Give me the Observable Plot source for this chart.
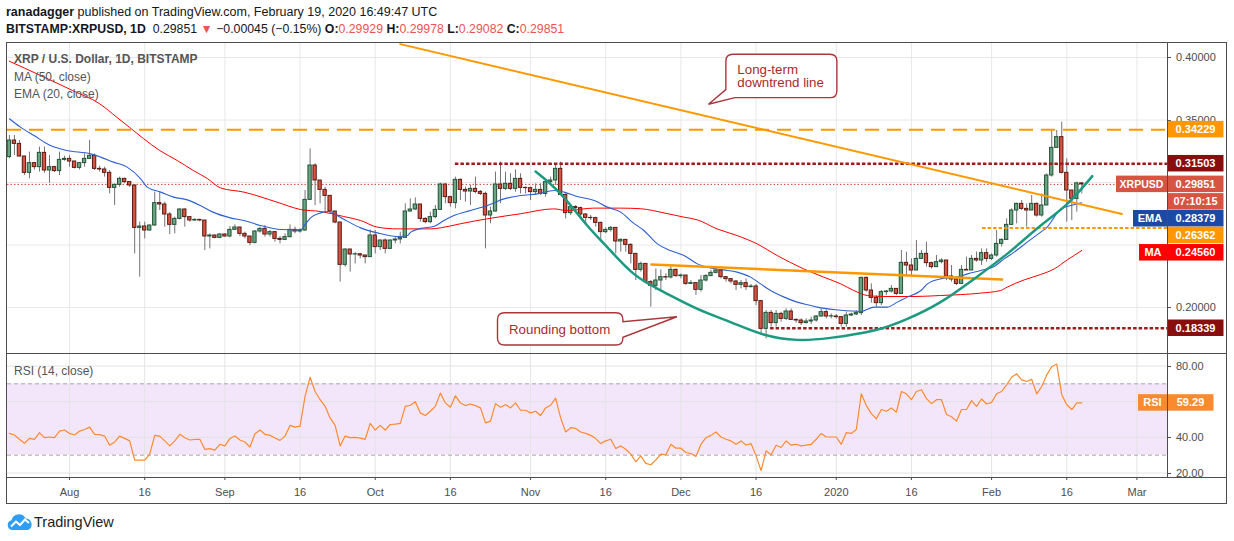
<!DOCTYPE html>
<html><head><meta charset="utf-8">
<script src="https://cdn.jsdelivr.net/npm/d3@7"></script>
<script src="https://cdn.jsdelivr.net/npm/@observablehq/plot@0.6"></script>
<style>
html,body{margin:0;padding:0;background:#fff;}
#root{position:relative;width:1234px;height:541px;overflow:hidden;font-family:"Liberation Sans",Arial,sans-serif;color:#131722;}
.abs{position:absolute;white-space:nowrap;}
.ln{position:absolute;background:#4d4d4d;}
.r{color:#ef5350;}
.lg{position:absolute;left:14px;font-size:12px;color:#555;white-space:nowrap;line-height:15px;}
</style></head>
<body><div id="root">
<div class="abs" style="left:6px;top:4px;font-size:12.5px;line-height:16px;"><b>ranadagger</b> published on TradingView.com, February 19, 2020 16:49:47 UTC</div>
<div class="abs" id="h2" style="left:6px;top:21px;font-size:12.3px;line-height:16px;"></div>
<div id="main" class="abs" style="left:0;top:43px;"></div>
<div id="rsi" class="abs" style="left:0;top:354px;"></div>
<div class="ln" style="left:6px;top:42px;width:1221px;height:1px"></div>
<div class="ln" style="left:6px;top:503px;width:1221px;height:1px"></div>
<div class="ln" style="left:6px;top:42px;width:1px;height:462px"></div>
<div class="ln" style="left:1226px;top:42px;width:1px;height:462px"></div>
<div class="ln" style="left:6px;top:353px;width:1221px;height:1px"></div>
<div class="ln" style="left:1167px;top:42px;width:1px;height:436px"></div>
<div class="ln" style="left:6px;top:477px;width:1221px;height:1px"></div>
<div class="lg" style="top:52px;font-weight:bold;">XRP / U.S. Dollar, 1D, BITSTAMP</div>
<div class="lg" style="top:70px;">MA (50, close)</div>
<div class="lg" style="top:87px;">EMA (20, close)</div>
<div class="lg" style="top:364px;">RSI (14, close)</div>
<svg class="abs" style="left:7px;top:513px" width="26" height="18" viewBox="0 0 26 18"><path d="M5 17 A5 5 0 0 1 4.5 7.2 A7.5 7.5 0 0 1 18.5 5.5 A6 6 0 0 1 21 17 Z" fill="#2f9df4"/><polyline points="4,13.5 9,8.5 13,12 18,6.5 22,10" fill="none" stroke="#fff" stroke-width="2"/></svg>
<div class="abs" style="left:34px;top:513px;font-size:14.5px;line-height:18px;color:#222;">TradingView</div>
</div>
<script>
// ---------------- DATA ----------------
const startDate = "2019-07-20";          // first daily candle
const firstOpen = 0.3203;                // open of the first candle (later opens = previous close)
const closes = [
0.3336,0.3309,0.3208,0.3077,0.3155,0.3123,0.3237,0.3096,0.3123,0.3091,0.3181,0.3189,
0.3168,0.3117,0.3155,0.3189,0.3213,0.3109,0.3104,0.3077,0.2957,0.2981,0.3029,0.3003,0.2976,0.2637,0.2648,0.2616,0.2656,0.2835,0.2824,0.2744,0.2661,0.2709,0.2784,0.2723,0.2696,0.2701,0.2696,0.2568,0.2576,0.2557,0.2584,
0.2568,0.2621,0.2640,0.2589,0.2568,0.2517,0.2608,0.2629,0.2584,0.2603,0.2549,0.2541,0.2563,0.2621,0.2608,0.2616,0.2861,0.3136,0.3016,0.2941,0.2893,0.2768,0.2680,0.2341,0.2464,0.2424,0.2426,0.2416,0.2403,0.2576,
0.2483,0.2536,0.2469,0.2536,0.2544,0.2557,0.2768,0.2784,0.2824,0.2709,0.2683,0.2723,0.2781,0.2984,0.2883,0.2835,0.3021,0.2941,0.2928,0.2949,0.2925,0.2909,0.2736,0.2768,0.2984,0.2949,0.2989,0.2949,0.3029,0.2957,0.2955,
0.2923,0.2941,0.2909,0.3003,0.3016,0.3109,0.2901,0.2755,0.2803,0.2795,0.2744,0.2717,0.2715,0.2677,0.2603,0.2621,0.2637,0.2528,0.2541,0.2501,0.2429,0.2301,0.2349,0.2203,0.2173,0.2216,0.2243,0.2240,0.2301,0.2251,
0.2256,0.2189,0.2195,0.2141,0.2216,0.2251,0.2277,0.2296,0.2243,0.2227,0.2208,0.2181,0.2195,0.2163,0.2168,0.2051,0.1829,0.1957,0.1875,0.1949,0.1909,0.1968,0.1901,0.1896,0.1875,0.1888,0.1896,0.1928,0.1963,0.1928,0.1928,
0.1923,0.1869,0.1936,0.1944,0.1955,0.2237,0.2136,0.2077,0.2035,0.2123,0.2128,0.2149,0.2109,0.2357,0.2336,0.2296,0.2389,0.2429,0.2355,0.2323,0.2363,0.2376,0.2248,0.2224,0.2189,0.2301,0.2296,0.2389,0.2376,0.2435,0.2389,
0.2416,0.2509,0.2541,0.2661,0.2776,0.2829,0.2789,0.2776,0.2829,0.2736,0.2816,0.3056,0.3277,0.3363,0.3077,0.2936,0.2869,0.2993,0.29851];
const highs = [
.3376,.3376,.3336,.3208,.3243,.3160,.3283,.3283,.3216,.3130,.3243,.3210,
.3216,.3170,.3160,.3229,.3336,.3229,.3130,.3123,.3096,.2989,.3043,.3035,.3003,.2981,.2683,.2683,.2660,.2923,.2923,.2843,.2760,.2723,.2790,.2789,.2723,.2710,.2705,.2696,.2589,.2580,.2590,
.2590,.2648,.2661,.2640,.2603,.2568,.2615,.2643,.2656,.2616,.2589,.2568,.2589,.2661,.2643,.2630,.2936,.3269,.3150,.3016,.2963,.2869,.2768,.2680,.2470,.2464,.2440,.2430,.2416,.2621,
.2616,.2540,.2549,.2540,.2563,.2603,.2829,.2869,.2877,.2824,.2717,.2763,.2816,.2995,.2989,.2890,.3043,.3029,.2963,.2976,.3043,.2936,.2923,.2803,.3083,.3163,.3083,.3070,.3101,.3070,.2963,
.2963,.2989,.2989,.3021,.3043,.3136,.3163,.2909,.2816,.2816,.2803,.2750,.2736,.2723,.2683,.2637,.2648,.2637,.2550,.2541,.2509,.2429,.2363,.2349,.2216,.2309,.2301,.2269,.2328,.2309,
.2269,.2256,.2216,.2189,.2256,.2264,.2296,.2328,.2301,.2248,.2229,.2216,.2216,.2229,.2184,.2184,.2056,.1976,.1976,.1976,.1963,.1989,.1989,.1909,.1909,.1909,.1923,.1936,.1989,.1981,.1949,
.1944,.1928,.1963,.1955,.1975,.2243,.2243,.2189,.2096,.2136,.2136,.2176,.2149,.2456,.2443,.2389,.2536,.2456,.2523,.2363,.2416,.2390,.2376,.2336,.2229,.2336,.2403,.2416,.2443,.2469,.2469,
.2430,.2616,.2549,.2709,.2790,.2835,.2856,.2829,.2896,.2835,.2909,.3069,.3416,.3416,.3483,.3189,.2936,.3003,.29978];
const lows = [
.3190,.3216,.3203,.3056,.3030,.3100,.3083,.3075,.2995,.3080,.3056,.3170,
.3123,.3109,.3100,.3123,.3189,.3096,.3083,.3043,.2909,.2816,.2963,.2990,.2960,.2429,.2243,.2549,.2610,.2650,.2776,.2643,.2584,.2589,.2700,.2643,.2683,.2690,.2685,.2456,.2469,.2550,.2550,
.2560,.2557,.2616,.2568,.2549,.2496,.2509,.2595,.2563,.2563,.2523,.2509,.2536,.2557,.2589,.2595,.2610,.2856,.2816,.2829,.2763,.2749,.2669,.2203,.2323,.2283,.2349,.2389,.2349,.2403,
.2429,.2456,.2429,.2469,.2509,.2509,.2557,.2763,.2776,.2683,.2670,.2670,.2710,.2776,.2830,.2803,.2789,.2856,.2843,.2816,.2910,.2896,.2469,.2670,.2763,.2830,.2936,.2936,.2923,.2909,.2909,
.2856,.2896,.2896,.2883,.2989,.2976,.2896,.2709,.2736,.2763,.2723,.2670,.2696,.2643,.2523,.2590,.2603,.2429,.2443,.2443,.2349,.2216,.2283,.2189,.2003,.2136,.2123,.2216,.2229,.2243,
.2229,.2176,.2184,.2096,.2123,.2203,.2248,.2269,.2229,.2203,.2189,.2136,.2149,.2136,.2157,.2016,.1776,.1749,.1843,.1843,.1883,.1896,.1896,.1875,.1856,.1869,.1864,.1883,.1923,.1909,.1909,
.1909,.1843,.1843,.1928,.1936,.1936,.2123,.2035,.2003,.2016,.2096,.2115,.2096,.2109,.2256,.2256,.2296,.2389,.2323,.2309,.2323,.2349,.2216,.2203,.2176,.2189,.2296,.2296,.2363,.2336,.2363,
.2376,.2403,.2483,.2536,.2656,.2669,.2776,.2643,.2776,.2723,.2723,.2816,.3043,.3283,.3069,.2683,.2696,.2763,.29082];
const lastOpen = 0.29929;
// RSI(14), one value per candle
const rsiValues = [
42.2,41.3,38.9,36.7,39.4,38.9,42.6,39.8,40.2,39.8,43.5,44.1,42.2,41.3,43.5,44.4,45.7,41.7,41.5,40.7,
35.6,37.4,40.7,39.4,38.0,27.2,27.2,27.2,30.6,41.1,40.7,38.0,35.2,38.0,41.7,39.8,38.5,38.9,38.9,33.3,
33.7,32.8,36.1,35.2,39.3,40.7,38.5,37.4,34.6,42.0,44.1,41.7,41.1,39.6,38.3,40.7,46.7,45.7,46.3,63.0,
73.7,65.7,61.1,57.4,50.9,46.7,35.2,40.7,39.8,40.0,39.6,38.9,47.8,44.1,46.7,44.1,47.2,47.4,47.8,57.4,
58.0,60.0,53.7,52.2,54.6,57.4,64.8,59.3,56.9,63.3,59.3,57.8,58.7,57.8,56.5,48.1,49.1,58.9,56.9,58.3,
56.5,59.3,55.2,55.2,53.7,54.6,
52.2,56.5,58.0,62.0,50.9,43.0,45.4,45.0,43.0,42.2,41.1,39.3,36.5,38.0,38.9,33.7,35.2,33.3,30.6,26.3,
29.6,25.4,24.6,27.4,30.6,30.2,36.1,33.9,33.9,31.5,30.9,29.3,36.1,39.8,41.1,43.0,40.2,38.9,38.0,36.1,
38.0,35.7,36.5,29.6,21.3,32.4,30.2,35.6,34.3,38.0,35.6,36.1,35.2,35.6,36.1,38.9,42.2,40.2,40.2,40.2,
36.1,42.6,42.2,44.4,64.4,57.8,53.3,50.4,55.6,54.6,56.5,54.1,65.7,64.4,61.1,65.7,66.7,61.7,58.9,61.1,
61.1,52.8,51.5,49.1,55.6,55.6,60.6,57.4,61.5,58.7,59.6,64.4,65.7,69.4,73.7,75.6,72.2,71.3,72.6,64.4,
68.5,75.0,79.6,81.1,63.9,58.3,55.6,59.3,59.29];
// MA(50) and EMA(20) read at day offsets from the first candle
const maDay = [0,6,12.6,18,21.5,24,26.8,30,33.5,36.7,39.5,42.1,46.8,53.4,58.1,62.1,66.7,70.1,73.4,77.4,84,86,90,95.4,102,108.6,111.3,116.6,122,126,130.6,134.6,137.3,141.2,145.2,149.2,153.2,158.5,162.5,165.9,168.5,171.2,174.5,180.5,185.8,193.8,197.8,199.1,202.5,205.8,208.5,211.1,214];
const maValues = [0.397,0.386,0.3736,0.363,0.352,0.344,0.335,0.3256,0.3176,0.3096,0.3032,0.2957,0.2923,0.2843,0.2784,0.2768,0.2728,0.2696,0.2643,0.2629,0.2629,0.2637,0.267,0.271,0.275,0.2789,0.2776,0.2795,0.2795,0.2790,0.2757,0.2723,0.2701,0.2629,0.2576,0.2509,0.2416,0.2309,0.2243,0.2189,0.2136,0.2096,0.2088,0.2088,0.2096,0.2115,0.2136,0.2163,0.2221,0.2264,0.2309,0.2381,0.2456];
const emaDay = [0,2.2,4.9,8.2,11.5,16.2,18.2,20.8,23.5,26.2,27.5,30.2,32.8,35.5,38.1,40.5,44.1,46.8,50.1,54.1,58.1,59.1,60.1,62.1,63.8,65.4,67.4,70.1,73.4,77.4,79.4,80.1,82.1,84.7,86.7,88.7,92,95.4,98.7,102,105.4,108.7,110.7,113.3,116.7,119.3,122,124.3,126.6,129.3,131.9,134.6,137.3,139.9,142.6,145.2,147.9,149.9,151.9,154.6,157.2,159.9,161.2,165.5,169.9,172.6,175.2,177.2,179.2,181.9,183.2,185.8,189.2,191.2,193.8,196.5,198.5,200.5,203.1,205.8,207.1,208.5,209.8,211.8,214];
const emaValues = [0.351,0.3443,0.3376,0.3296,0.3256,0.3229,0.3203,0.3163,0.3123,0.3029,0.2963,0.2923,0.2883,0.2861,0.2816,0.2765,0.2717,0.2696,0.2656,0.2624,0.2621,0.2669,0.2717,0.2757,0.2768,0.2736,0.2691,0.2637,0.2597,0.2568,0.2576,0.2603,0.2633,0.2648,0.2696,0.2736,0.2776,0.2816,0.2869,0.2896,0.2909,0.2936,0.2923,0.2888,0.2856,0.2803,0.2763,0.2683,0.2616,0.2509,0.2456,0.2416,0.2349,0.2317,0.2301,0.2283,0.2243,0.2189,0.2136,0.2083,0.2043,0.2016,0.2003,0.1980,0.1968,0.2003,0.2003,0.2043,0.2083,0.2136,0.2189,0.2229,0.2243,0.2269,0.2296,0.2328,0.2389,0.2443,0.2523,0.2603,0.2643,0.2723,0.2789,0.2816,0.28379];
// drawings
const roundDay = [105.0,110.0,115.3,119.3,124.6,130.6,137.3,143.9,150.5,157.2,163.8,172.5,179.2,185.8,192.5,199.1,205.8,211.1,216.1];
const roundValues = [0.3088,0.2909,0.2656,0.2483,0.2269,0.2123,0.1989,0.1883,0.1784,0.1741,0.1757,0.1816,0.1909,0.2043,0.2229,0.2429,0.2656,0.2829,0.3051];
const downtrendDay = [78, 222];
const downtrendValues = [0.4107, 0.2748];
const neckDay = [128.1, 198.1];
const neckValues = [0.2344, 0.2224];
const levelValues = [0.34229, 0.31503, 0.26362, 0.18339];
const levelStartDay = [-0.38, 89, 194.2, 151.9];
const lastPrice = 0.29851, emaLast = 0.28379, maLast = 0.24560, rsiLast = 59.29;
const countdown = "07:10:15";
const priceTicks = [0.20, 0.25, 0.30, 0.35, 0.40];
const rsiTicks = [20, 40, 60, 80];
const tickDates = ["2019-08-01","2019-08-16","2019-09-01","2019-09-16","2019-10-01","2019-10-16","2019-11-01","2019-11-16","2019-12-01","2019-12-16","2020-01-01","2020-01-16","2020-02-01","2020-02-16","2020-03-01"];
const tickLabels = ["Aug","16","Sep","16","Oct","16","Nov","16","Dec","16","2020","16","Feb","16","Mar"];
const calloutTexts = [["Long-term","downtrend line"],["Rounding bottom"]];
const calloutTipDay = [139.6, 133.3];
const calloutTipValue = [0.3622, 0.1922];

// ---------------- BUILD ----------------
const FONT = '"Liberation Sans", Arial, sans-serif';
const DAY = 864e5;
const T0 = Date.parse(startDate + "T00:00:00Z");
const at = i => new Date(T0 + i * DAY);
const xDomain = [at(-0.38), at(231.1)];
const ticks = tickDates.map(s => new Date(s + "T00:00:00Z"));
const tickLabelMap = new Map(ticks.map((d, i) => [+d, tickLabels[i]]));

const candles = closes.map((c, i) => ({
  i, date: at(i),
  open: i === 0 ? firstOpen : (i === closes.length - 1 ? lastOpen : closes[i - 1]),
  high: highs[i], low: lows[i], close: c
}));
const pts = (days, vals) => days.map((d, k) => ({date: at(d), value: vals[k]}));
const maPts = pts(maDay, maValues), emaPts = pts(emaDay, emaValues);
const roundPts = pts(roundDay, roundValues);
const downPts = pts(downtrendDay, downtrendValues);
const neckPts = pts(neckDay, neckValues);
const rsiPts = rsiValues.map((v, i) => ({date: at(i), value: v}));

document.getElementById("h2").innerHTML =
  `<b>BITSTAMP:XRPUSD, 1D</b>&nbsp; ${lastPrice.toFixed(5)} <span class="r">&#9660;</span> &minus;0.00045 (&minus;0.15%) ` +
  `<b>O:</b><span class="r">${lastOpen.toFixed(5)}</span> <b>H:</b><span class="r">${highs[highs.length-1].toFixed(5)}</span> ` +
  `<b>L:</b><span class="r">${lows[lows.length-1].toFixed(5)}</span> <b>C:</b><span class="r">${lastPrice.toFixed(5)}</span>`;

// right-axis labels as a render-function mark; a tick label whose centre sits under a value box is hidden (as in TradingView)
function axisLabels(tickVals, fmt, tags) {
  return (index, scales, values, dims) => {
    const g = d3.create("svg:g").attr("font-family", FONT).attr("text-anchor", "start");
    const x0 = dims.width - dims.marginRight;
    const h = 16.5;
    const boxes = tags.map(t => scales.y(t.value) + (t.shift || 0));
    for (const t of tickVals) {
      const y = Math.round(scales.y(t)) + 0.5;
      g.append("line").attr("x1", x0).attr("x2", x0 + 4).attr("y1", y).attr("y2", y).attr("stroke", "#555");
      if (boxes.some(c => Math.abs(c - y) < h / 2)) continue;
      g.append("text").attr("x", x0 + 9).attr("y", y).attr("dy", "0.36em").attr("fill", "#4d4d4d")
        .attr("text-anchor", "start").attr("font-size", 11).text(fmt(t));
    }
    for (const t of tags) {
      const yc = scales.y(t.value) + (t.shift || 0);
      const w = t.w || 56;
      g.append("rect").attr("x", x0 + 0.5).attr("y", yc - h / 2).attr("width", w).attr("height", h).attr("fill", t.bg);
      g.append("text").attr("x", x0 + 0.5 + w / 2).attr("y", yc).attr("dy", "0.36em").attr("text-anchor", "middle")
        .attr("fill", "#fff").attr("font-size", 11).attr("font-weight", "bold").text(t.text);
      if (t.tag) {
        const tw = t.tagW;
        g.append("rect").attr("x", x0 - tw).attr("y", yc - h / 2).attr("width", tw).attr("height", h).attr("fill", t.bg);
        g.append("text").attr("x", x0 - tw / 2).attr("y", yc).attr("dy", "0.36em").attr("text-anchor", "middle")
          .attr("fill", "#fff").attr("font-size", t.tagSize || 11).attr("font-weight", "bold").text(t.tag);
      }
      if (t.sub) {
        g.append("rect").attr("x", x0 + 0.5).attr("y", yc + h / 2 + 1).attr("width", w).attr("height", h).attr("fill", t.bg);
        g.append("text").attr("x", x0 + 0.5 + w / 2).attr("y", yc + h + 1).attr("dy", "0.36em").attr("text-anchor", "middle")
          .attr("fill", "#fff").attr("font-size", 11).attr("font-weight", "bold").text(t.sub);
      }
    }
    return g.node();
  };
}

// speech-bubble callouts anchored at a data point
function callout(k, geom) {
  return (index, scales) => {
    const tx = scales.x(at(calloutTipDay[k])), ty = scales.y(calloutTipValue[k]);
    const {dx, dy, w, h, side} = geom;
    const L = tx + dx, T = ty + dy, R = L + w, B = T + h, r = 7;
    let d;
    if (side === "bottomleft") {
      d = `M${L + r},${T} H${R - r} Q${R},${T} ${R},${T + r} V${B - r} Q${R},${B} ${R - r},${B} H${L + 9} L${tx},${ty} L${L},${B - 8} V${T + r} Q${L},${T} ${L + r},${T} Z`;
    } else {
      d = `M${L + r},${T} H${R - r} Q${R},${T} ${R},${T + r} V${T + 9} L${tx},${ty} L${R},${T + 24.5} V${B - r} Q${R},${B} ${R - r},${B} H${L + r} Q${L},${B} ${L},${B - r} V${T + r} Q${L},${T} ${L + r},${T} Z`;
    }
    const g = d3.create("svg:g").attr("text-anchor", "start");
    g.append("path").attr("d", d).attr("fill", "#fff").attr("stroke", "#a9363b").attr("stroke-width", 1.4);
    calloutTexts[k].forEach((s, j) => {
      g.append("text").attr("x", L + 11.5).attr("y", T + geom.base + j * 13).attr("fill", "#a82a2f")
        .attr("text-anchor", "start").attr("font-family", FONT).attr("font-size", 13.3).text(s);
    });
    return g.node();
  };
}

const up = "#6ba583", dn = "#d75442";
const mainTags = [
  {value: levelValues[0], text: levelValues[0].toFixed(5), bg: "#ff9800"},
  {value: levelValues[1], text: levelValues[1].toFixed(5), bg: "#880e0e"},
  {value: lastPrice, text: lastPrice.toFixed(5), bg: dn, tag: "XRPUSD", tagW: 51, tagSize: 10.5, sub: countdown},
  {value: emaLast, text: emaLast.toFixed(5), bg: "#1b49a6", tag: "EMA", tagW: 34, shift: 16},
  {value: levelValues[2], text: levelValues[2].toFixed(5), bg: "#ff9800", shift: 7.5},
  {value: maLast, text: maLast.toFixed(5), bg: "#ff0000", tag: "MA", tagW: 28, shift: 2.3},
  {value: levelValues[3], text: levelValues[3].toFixed(5), bg: "#880e0e"}
];
const xEnd = xDomain[1];

const main = Plot.plot({
  width: 1234, height: 311,
  marginLeft: 7, marginRight: 67, marginTop: 0, marginBottom: 0,
  x: {type: "utc", domain: xDomain, axis: null},
  y: {domain: [0.1624, 0.4112], axis: null},
  style: {background: "transparent", fontFamily: FONT, overflow: "visible"},
  marks: [
    Plot.ruleX(ticks, {stroke: "#e8e8e8"}),
    Plot.ruleY(priceTicks, {stroke: "#e8e8e8"}),
    Plot.ruleY([lastPrice], {stroke: "#d0413a", strokeDasharray: "1.5,2", strokeWidth: 1}),
    Plot.ruleX(candles, {x: "date", y1: "low", y2: "high", stroke: "#737375", strokeWidth: 1}),
    Plot.rect(candles, {
      x1: d => at(d.i - 0.33), x2: d => at(d.i + 0.33),
      y1: "open", y2: d => d.close === d.open ? d.close + 0.0002 : d.close,
      fill: d => d.close >= d.open ? up : dn,
      stroke: d => d.close >= d.open ? "#225437" : "#5b1a13", strokeWidth: 1
    }),
    Plot.line(maPts, {x: "date", y: "value", stroke: "#ff0000", strokeWidth: 1, curve: "monotone-x"}),
    Plot.line(emaPts, {x: "date", y: "value", stroke: "#2d5fd0", strokeWidth: 1.1, curve: "monotone-x"}),
    Plot.ruleY([levelValues[0]], {x1: () => at(levelStartDay[0]), x2: () => xEnd, stroke: "#ff9800", strokeWidth: 2, strokeDasharray: "14,8"}),
    Plot.ruleY([levelValues[1]], {x1: () => at(levelStartDay[1]), x2: () => xEnd, stroke: "#9b1c1c", strokeWidth: 2.5, strokeDasharray: "3.5,2"}),
    Plot.ruleY([levelValues[2]], {x1: () => at(levelStartDay[2]), x2: () => xEnd, stroke: "#ff9800", strokeWidth: 2, strokeDasharray: "3.5,2"}),
    Plot.ruleY([levelValues[3]], {x1: () => at(levelStartDay[3]), x2: () => xEnd, stroke: "#9b1c1c", strokeWidth: 2.5, strokeDasharray: "3.5,2"}),
    Plot.line(downPts, {x: "date", y: "value", stroke: "#ff9800", strokeWidth: 2}),
    Plot.line(neckPts, {x: "date", y: "value", stroke: "#ff9800", strokeWidth: 2.5}),
    Plot.line(roundPts, {x: "date", y: "value", stroke: "#1c9a80", strokeWidth: 2.5, curve: "natural"}),
    callout(0, {dx: 17.4, dy: -50, w: 111, h: 43.4, side: "bottomleft", base: 20}),
    callout(1, {dx: -179.4, dy: -4, w: 125.4, h: 32.3, side: "right", base: 21}),
    axisLabels(priceTicks, v => v.toFixed(5), mainTags)
  ]
});
document.getElementById("main").append(main);

const rsiColor = "#fb8a2e";
const rsi = Plot.plot({
  width: 1234, height: 150,
  marginLeft: 7, marginRight: 67, marginTop: 0, marginBottom: 27,
  x: {type: "utc", domain: xDomain},
  y: {domain: [20, 80], range: [118.5, 11.5], axis: null},
  style: {background: "transparent", fontFamily: FONT, fontSize: "11px", color: "#4d4d4d", overflow: "visible"},
  marks: [
    Plot.rect([0], {x1: () => xDomain[0], x2: () => xDomain[1], y1: () => 30, y2: () => 70, fill: "#f3e6fb"}),
    Plot.ruleX(ticks, {stroke: "#e4e4e4"}),
    Plot.ruleY(rsiTicks, {stroke: "#e2e2e2"}),
    Plot.ruleY([30, 70], {stroke: "#a6a6a6", strokeDasharray: "4,3"}),
    Plot.line(rsiPts, {x: "date", y: "value", stroke: rsiColor, strokeWidth: 1.2}),
    Plot.axisX(ticks, {anchor: "bottom", tickSize: 3, tickPadding: 8, label: null, fontSize: 11,
      tickFormat: d => tickLabelMap.get(+d)}),
    axisLabels(rsiTicks, v => v.toFixed(2), [
      {value: rsiLast, text: rsiLast.toFixed(2), bg: rsiColor, w: 46, tag: "RSI", tagW: 29}
    ])
  ]
});
document.getElementById("rsi").append(rsi);
</script>
</body></html>
